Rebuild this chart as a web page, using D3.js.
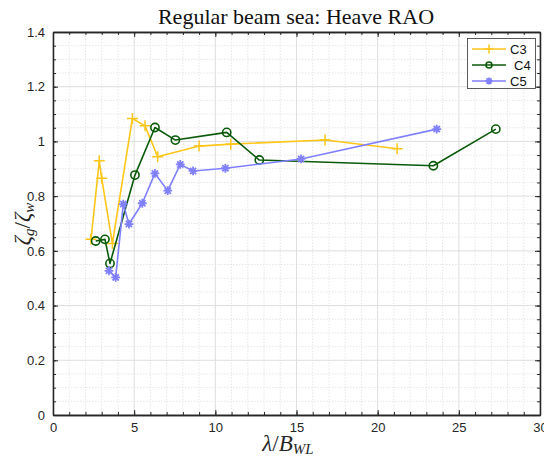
<!DOCTYPE html>
<html><head><meta charset="utf-8">
<script src="https://cdn.jsdelivr.net/npm/d3@7"></script>
<style>body{margin:0;background:#fff}svg{display:block}</style>
</head><body>
<script>
const seriesNames = ["C3", "C4", "C5"];
const c3x = [2.34, 2.85, 3.0, 3.66, 4.89, 5.67, 6.45, 9.0, 10.95, 16.76, 21.2];
const c3y = [0.642, 0.929, 0.865, 0.627, 1.084, 1.057, 0.944, 0.983, 0.99, 1.005, 0.973];
const c4x = [2.63, 3.2, 3.51, 5.05, 6.28, 7.54, 10.7, 12.71, 23.43, 27.28];
const c4y = [0.636, 0.642, 0.554, 0.877, 1.051, 1.005, 1.033, 0.932, 0.911, 1.045];
const c5x = [3.45, 3.86, 4.33, 4.68, 5.5, 6.28, 7.07, 7.84, 8.63, 10.62, 15.28, 23.64];
const c5y = [0.527, 0.503, 0.771, 0.698, 0.774, 0.883, 0.82, 0.916, 0.892, 0.902, 0.936, 1.045];
const xTicks = [0, 5, 10, 15, 20, 25, 30];
const yTicks = [0, 0.2, 0.4, 0.6, 0.8, 1, 1.2, 1.4];

const W = 544, H = 460;
const m = {l: 53, r: 4, t: 32, b: 45};
const svg = d3.select("body").append("svg").attr("width", W).attr("height", H);
const x = d3.scaleLinear().domain([0, 30]).range([m.l, W - m.r]);
const y = d3.scaleLinear().domain([0, 1.4]).range([H - m.b, m.t]);

const xMinor = d3.range(0, 31, 1);
const yMinor = d3.range(0, 29).map(i => i * 0.05);
const g = svg.append("g");
// minor grid
g.selectAll(".mgx").data(xMinor.filter(v => v % 5 !== 0)).enter().append("line")
  .attr("x1", d => x(d)).attr("x2", d => x(d)).attr("y1", y(0)).attr("y2", y(1.4))
  .attr("stroke", "#e6e6e6").attr("stroke-width", 1).attr("stroke-dasharray", "1.5,1.5");
g.selectAll(".mgy").data(yMinor.filter((v, i) => i % 4 !== 0)).enter().append("line")
  .attr("y1", d => y(d)).attr("y2", d => y(d)).attr("x1", x(0)).attr("x2", x(30))
  .attr("stroke", "#e6e6e6").attr("stroke-width", 1).attr("stroke-dasharray", "1.5,1.5");
// major grid
g.selectAll(".gx").data(xTicks).enter().append("line")
  .attr("x1", d => x(d)).attr("x2", d => x(d)).attr("y1", y(0)).attr("y2", y(1.4))
  .attr("stroke", "#dedede").attr("stroke-width", 1);
g.selectAll(".gy").data(yTicks).enter().append("line")
  .attr("y1", d => y(d)).attr("y2", d => y(d)).attr("x1", x(0)).attr("x2", x(30))
  .attr("stroke", "#dedede").attr("stroke-width", 1);

// axes
const fmt = d => String(d);
svg.append("g").attr("transform", `translate(0,${y(0)})`)
  .call(d3.axisBottom(x).tickValues(xTicks).tickFormat(fmt).tickSizeInner(-5).tickSizeOuter(0).tickPadding(8));
svg.append("g").attr("transform", `translate(${x(0)},0)`)
  .call(d3.axisLeft(y).tickValues(yTicks).tickFormat(fmt).tickSizeInner(-5).tickSizeOuter(0).tickPadding(8));
svg.append("g").attr("transform", `translate(0,${y(1.4)})`)
  .call(d3.axisTop(x).tickValues(xTicks).tickFormat("").tickSizeInner(-5).tickSizeOuter(0));
svg.append("g").attr("transform", `translate(${x(30)},0)`)
  .call(d3.axisRight(y).tickValues(yTicks).tickFormat("").tickSizeInner(-5).tickSizeOuter(0));
// minor ticks
svg.append("g").attr("transform", `translate(0,${y(0)})`)
  .call(d3.axisBottom(x).tickValues(xMinor).tickFormat("").tickSizeInner(-3).tickSizeOuter(0));
svg.append("g").attr("transform", `translate(0,${y(1.4)})`)
  .call(d3.axisTop(x).tickValues(xMinor).tickFormat("").tickSizeInner(-3).tickSizeOuter(0));
svg.append("g").attr("transform", `translate(${x(0)},0)`)
  .call(d3.axisLeft(y).tickValues(yMinor).tickFormat("").tickSizeInner(-3).tickSizeOuter(0));
svg.append("g").attr("transform", `translate(${x(30)},0)`)
  .call(d3.axisRight(y).tickValues(yMinor).tickFormat("").tickSizeInner(-3).tickSizeOuter(0));
svg.selectAll(".domain").attr("stroke", "#262626").attr("stroke-width", 1.3);
svg.selectAll(".tick line").attr("stroke", "#262626").attr("stroke-width", 1);
svg.selectAll(".tick text").attr("font-family", "Liberation Sans, Arial, sans-serif")
  .attr("font-size", 13).attr("fill", "#262626");

// data
const series = [
  {name: seriesNames[0], xs: c3x, ys: c3y, color: "#ffc61a", marker: "plus"},
  {name: seriesNames[1], xs: c4x, ys: c4y, color: "#0a5a0a", marker: "circle"},
  {name: seriesNames[2], xs: c5x, ys: c5y, color: "#8080ff", marker: "star"}
];
const line = d3.line().x(d => x(d[0])).y(d => y(d[1]));
function drawMarker(sel, type, color, cx, cy, s) {
  if (type === "plus") {
    sel.append("path").attr("d", `M${cx - s},${cy}H${cx + s}M${cx},${cy - s}V${cy + s}`)
      .attr("stroke", color).attr("stroke-width", 1.5).attr("fill", "none");
  } else if (type === "circle") {
    sel.append("circle").attr("cx", cx).attr("cy", cy).attr("r", s * 0.75)
      .attr("stroke", color).attr("stroke-width", 1.6).attr("fill", "none");
  } else {
    let d = "";
    for (let k = 0; k < 4; k++) {
      const a = k * Math.PI / 4;
      const dx = Math.cos(a) * s * 0.8, dy = Math.sin(a) * s * 0.8;
      d += `M${cx - dx},${cy - dy}L${cx + dx},${cy + dy}`;
    }
    sel.append("path").attr("d", d).attr("stroke", color).attr("stroke-width", 1.8).attr("fill", "none");
    sel.append("circle").attr("cx", cx).attr("cy", cy).attr("r", 2.2).attr("fill", color);
  }
}
series.forEach(s => {
  const pts = s.xs.map((v, i) => [v, s.ys[i]]);
  const gg = svg.append("g");
  gg.append("path").datum(pts).attr("d", line).attr("fill", "none")
    .attr("stroke", s.color).attr("stroke-width", 1.6).attr("stroke-linejoin", "round");
  pts.forEach(p => drawMarker(gg, s.marker, s.color, x(p[0]), y(p[1]), 5.5));
});

// legend
const lg = svg.append("g");
lg.append("rect").attr("x", 467.5).attr("y", 38.5).attr("width", 68).attr("height", 50)
  .attr("fill", "#fff").attr("stroke", "#333").attr("stroke-width", 0.8);
series.forEach((s, i) => {
  const yy = 49 + i * 16;
  lg.append("line").attr("x1", 472).attr("x2", 506).attr("y1", yy).attr("y2", yy)
    .attr("stroke", s.color).attr("stroke-width", 1.6);
  drawMarker(lg, s.marker, s.color, 489, yy, s.marker === "circle" ? 4 : 4.5);
  lg.append("text").attr("x", i === 1 ? 514 : 510).attr("y", yy + 4.5).text(s.name)
    .attr("font-family", "Liberation Sans, Arial, sans-serif").attr("font-size", 13).attr("fill", "#111");
});

// title
svg.append("text").attr("x", 296).attr("y", 24).attr("text-anchor", "middle")
  .attr("font-family", "Liberation Serif, 'DejaVu Serif', serif").attr("font-size", 22).attr("fill", "#111")
  .text("Regular beam sea: Heave RAO");

// x label
const xl = svg.append("text").attr("x", 288).attr("y", 451).attr("text-anchor", "middle")
  .attr("font-family", "Liberation Serif, serif").attr("font-size", 23).attr("fill", "#262626");
xl.append("tspan").attr("font-style", "italic").text("λ");
xl.append("tspan").text("/");
xl.append("tspan").attr("font-style", "italic").text("B");
xl.append("tspan").attr("font-style", "italic").attr("font-size", 15).attr("dy", 3).text("WL");

// y label
const yl = svg.append("text").attr("transform", "translate(30,224) rotate(-90)").attr("text-anchor", "middle")
  .attr("font-family", "Liberation Serif, serif").attr("font-size", 23).attr("fill", "#262626");
yl.append("tspan").attr("font-style", "italic").text("ζ");
yl.append("tspan").attr("font-style", "italic").attr("font-size", 15).attr("dy", 4).text("g");
yl.append("tspan").attr("dy", -4).text("/");
yl.append("tspan").attr("font-style", "italic").text("ζ");
yl.append("tspan").attr("font-style", "italic").attr("font-size", 15).attr("dy", 4).text("w");
</script>
</body></html>
